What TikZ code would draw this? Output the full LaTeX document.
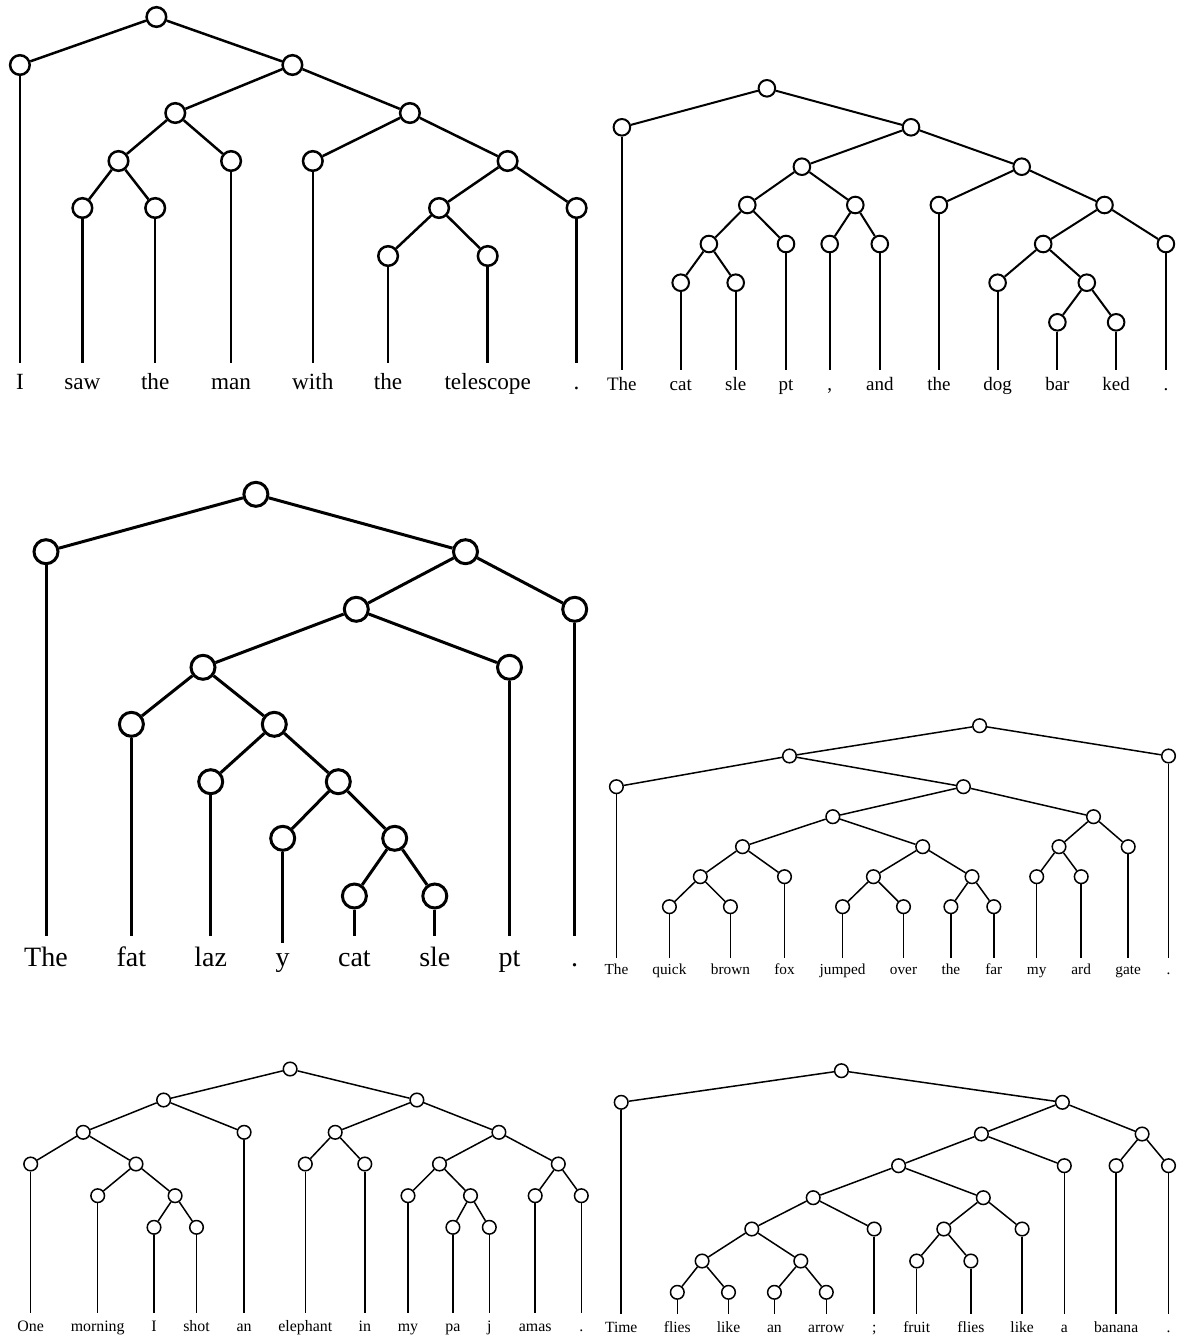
\documentclass[tikz,border=0pt]{standalone}
\usepackage{fontspec}
\setmainfont{Liberation Serif}
\begin{document}
\begin{tikzpicture}[x=0.5pt,y=-0.5pt]
\useasboundingbox (0,0) rectangle (1180,1339);
\tikzset{
  nA/.style={circle,draw,fill=white,line width=1.25pt,minimum size=9.8pt,inner sep=0pt},
  eA/.style={line width=1.25pt},
  wA/.style={anchor=base,inner sep=0pt,outer sep=0pt,text height=12.85pt,text depth=0pt,font=\fontsize{11.6pt}{13pt}\selectfont},
  nB/.style={circle,draw,fill=white,line width=1pt,minimum size=8.3pt,inner sep=0pt},
  eB/.style={line width=1pt},
  wB/.style={anchor=base,inner sep=0pt,outer sep=0pt,text height=10.3pt,text depth=0pt,font=\fontsize{9.5pt}{11pt}\selectfont},
  nC/.style={circle,draw,fill=white,line width=1.5pt,minimum size=12pt,inner sep=0pt},
  eC/.style={line width=1.5pt},
  wC/.style={anchor=base,inner sep=0pt,outer sep=0pt,text height=15pt,text depth=0pt,font=\fontsize{14pt}{16pt}\selectfont},
  nD/.style={circle,draw,fill=white,line width=0.75pt,minimum size=6.8pt,inner sep=0pt},
  eD/.style={line width=0.75pt},
  wD/.style={anchor=base,inner sep=0pt,outer sep=0pt,text height=7.85pt,text depth=0pt,font=\fontsize{7.65pt}{9pt}\selectfont},
  wE/.style={anchor=base,inner sep=0pt,outer sep=0pt,text height=8.85pt,text depth=0pt,font=\fontsize{7.95pt}{9pt}\selectfont},
  wF/.style={anchor=base,inner sep=0pt,outer sep=0pt,text height=9pt,text depth=0pt,font=\fontsize{7.8pt}{9pt}\selectfont},
}
% ---------------- Tree 1 ----------------
\node[nA] (t1r) at (156.4,17) {};
\node[nA] (t1a) at (19.9,65) {};
\node[nA] (t1b) at (292.4,65) {};
\node[nA] (t1c) at (175.3,113) {};
\node[nA] (t1d) at (409.9,113) {};
\node[nA] (t1e) at (118.5,161) {};
\node[nA] (t1f) at (231.1,161) {};
\node[nA] (t1g) at (312.8,161) {};
\node[nA] (t1h) at (507.6,161) {};
\node[nA] (t1i) at (82.4,208) {};
\node[nA] (t1j) at (155.2,208) {};
\node[nA] (t1k) at (439.1,208) {};
\node[nA] (t1l) at (576.6,208) {};
\node[nA] (t1m) at (388.1,256) {};
\node[nA] (t1n) at (487.7,256) {};
\node[wA] (w1a) at (19.9,389) {I};
\node[wA] (w1i) at (82.4,389) {saw};
\node[wA] (w1j) at (155.2,389) {the};
\node[wA] (w1f) at (231.1,389) {man};
\node[wA] (w1g) at (312.8,389) {with};
\node[wA] (w1m) at (388.1,389) {the};
\node[wA] (w1n) at (487.7,389) {telescope};
\node[wA] (w1l) at (576.6,389) {.};
\foreach \p/\c in {r/a,r/b,b/c,b/d,c/e,c/f,e/i,e/j,d/g,d/h,h/k,h/l,k/m,k/n}
  \draw[eA] (t1\p) -- (t1\c);
\foreach \c in {a,i,j,f,g,m,n,l}
  \draw[eA] (t1\c) -- (w1\c);
% ---------------- Tree 2 ----------------
\node[nB] (t2r) at (766.9,88.3) {};
\node[nB] (t2a) at (621.9,127.3) {};
\node[nB] (t2b) at (911.0,127.3) {};
\node[nB] (t2c) at (801.9,166.7) {};
\node[nB] (t2d) at (1021.7,166.7) {};
\node[nB] (t2e) at (747.3,205) {};
\node[nB] (t2f) at (855.3,205) {};
\node[nB] (t2g) at (938.9,205) {};
\node[nB] (t2h) at (1104.5,205) {};
\node[nB] (t2i) at (708.9,244) {};
\node[nB] (t2j) at (786.0,244) {};
\node[nB] (t2k) at (829.7,244) {};
\node[nB] (t2l) at (879.8,244) {};
\node[nB] (t2m) at (1043.2,244) {};
\node[nB] (t2n) at (1165.9,244) {};
\node[nB] (t2o) at (680.7,282.7) {};
\node[nB] (t2p) at (735.7,282.7) {};
\node[nB] (t2q) at (997.6,282.7) {};
\node[nB] (t2s) at (1086.8,282.7) {};
\node[nB] (t2t) at (1057.4,322.3) {};
\node[nB] (t2u) at (1116.1,322.3) {};
\node[wB] (w2a) at (621.9,390.6) {The};
\node[wB] (w2o) at (680.7,390.6) {cat};
\node[wB] (w2p) at (735.7,390.6) {sle};
\node[wB] (w2j) at (786.0,390.6) {pt};
\node[wB] (w2k) at (829.7,390.6) {,};
\node[wB] (w2l) at (879.8,390.6) {and};
\node[wB] (w2g) at (938.9,390.6) {the};
\node[wB] (w2q) at (997.6,390.6) {dog};
\node[wB] (w2t) at (1057.4,390.6) {bar};
\node[wB] (w2u) at (1116.1,390.6) {ked};
\node[wB] (w2n) at (1165.9,390.6) {.};
\foreach \p/\c in {r/a,r/b,b/c,b/d,c/e,c/f,e/i,e/j,i/o,i/p,f/k,f/l,d/g,d/h,h/m,h/n,m/q,m/s,s/t,s/u}
  \draw[eB] (t2\p) -- (t2\c);
\foreach \c in {a,o,p,j,k,l,g,q,t,u,n}
  \draw[eB] (t2\c) -- (w2\c);
% ---------------- Tree 3 ----------------
\node[nC] (t3r) at (255.9,494.3) {};
\node[nC] (t3a) at (46.0,551.7) {};
\node[nC] (t3b) at (465.5,551.7) {};
\node[nC] (t3c) at (356.3,609.3) {};
\node[nC] (t3d) at (574.7,609.3) {};
\node[nC] (t3e) at (203.0,667.3) {};
\node[nC] (t3f) at (509.5,667.3) {};
\node[nC] (t3g) at (131.4,724.3) {};
\node[nC] (t3h) at (274.3,724.3) {};
\node[nC] (t3i) at (210.7,781.7) {};
\node[nC] (t3j) at (338.3,781.7) {};
\node[nC] (t3k) at (282.7,838.3) {};
\node[nC] (t3l) at (394.7,838.3) {};
\node[nC] (t3m) at (354.4,896) {};
\node[nC] (t3n) at (434.8,896) {};
\node[wC] (w3a) at (46.0,966) {The};
\node[wC] (w3g) at (131.4,966) {fat};
\node[wC] (w3i) at (210.7,966) {laz};
\node[wC,text height=11.5pt] (w3k) at (282.7,966) {y};
\node[wC] (w3m) at (354.4,966) {cat};
\node[wC] (w3n) at (434.8,966) {sle};
\node[wC] (w3f) at (509.5,966) {pt};
\node[wC] (w3d) at (574.7,966) {.};
\foreach \p/\c in {r/a,r/b,b/c,b/d,c/e,c/f,e/g,e/h,h/i,h/j,j/k,j/l,l/m,l/n}
  \draw[eC] (t3\p) -- (t3\c);
\foreach \c in {a,g,i,k,m,n,f,d}
  \draw[eC] (t3\c) -- (w3\c);
% ---------------- Tree 4 ----------------
\node[nD] (t4r) at (979.6,725.7) {};
\node[nD] (t4a) at (789.5,756) {};
\node[nD] (t4b) at (1168.5,756) {};
\node[nD] (t4c) at (616.4,786.7) {};
\node[nD] (t4d) at (963.4,786.7) {};
\node[nD] (t4e) at (832.8,816.7) {};
\node[nD] (t4f) at (1093.5,816.7) {};
\node[nD] (t4g) at (742.5,846.7) {};
\node[nD] (t4h) at (922.7,846.7) {};
\node[nD] (t4i) at (1059.0,846.7) {};
\node[nD] (t4j) at (1128.2,846.7) {};
\node[nD] (t4k) at (700.3,876.7) {};
\node[nD] (t4l) at (784.5,876.7) {};
\node[nD] (t4m) at (873.4,876.7) {};
\node[nD] (t4n) at (972.0,876.7) {};
\node[nD] (t4o) at (1036.7,876.7) {};
\node[nD] (t4p) at (1081.2,876.7) {};
\node[nD] (t4q) at (669.4,906.7) {};
\node[nD] (t4s) at (730.4,906.7) {};
\node[nD] (t4t) at (842.6,906.7) {};
\node[nD] (t4u) at (903.5,906.7) {};
\node[nD] (t4v) at (950.9,906.7) {};
\node[nD] (t4w) at (993.8,906.7) {};
\node[wD] (w4c) at (616.4,974) {The};
\node[wD] (w4q) at (669.4,974) {quick};
\node[wD] (w4s) at (730.4,974) {brown};
\node[wD] (w4l) at (784.5,974) {fox};
\node[wD] (w4t) at (842.6,974) {jumped};
\node[wD] (w4u) at (903.5,974) {over};
\node[wD] (w4v) at (950.9,974) {the};
\node[wD] (w4w) at (993.8,974) {far};
\node[wD] (w4o) at (1036.7,974) {my};
\node[wD] (w4p) at (1081.2,974) {ard};
\node[wD] (w4j) at (1128.2,974) {gate};
\node[wD] (w4b) at (1168.5,974) {.};
\foreach \p/\c in {r/a,r/b,a/c,a/d,d/e,d/f,e/g,e/h,g/k,g/l,k/q,k/s,h/m,h/n,m/t,m/u,n/v,n/w,f/i,f/j,i/o,i/p}
  \draw[eD] (t4\p) -- (t4\c);
\foreach \c in {c,q,s,l,t,u,v,w,o,p,j,b}
  \draw[eD] (t4\c) -- (w4\c);
% ---------------- Tree 5 ----------------
\node[nD] (t5r) at (290.1,1069) {};
\node[nD] (t5a) at (163.6,1100) {};
\node[nD] (t5b) at (416.9,1100) {};
\node[nD] (t5c) at (83.2,1132.3) {};
\node[nD] (t5d) at (244.1,1132.3) {};
\node[nD] (t5e) at (335.2,1132.3) {};
\node[nD] (t5f) at (498.9,1132.3) {};
\node[nD] (t5g) at (30.7,1164) {};
\node[nD] (t5h) at (136.0,1164) {};
\node[nD] (t5i) at (305.3,1164) {};
\node[nD] (t5j) at (364.8,1164) {};
\node[nD] (t5k) at (439.5,1164) {};
\node[nD] (t5l) at (558.3,1164) {};
\node[nD] (t5m) at (97.7,1195.7) {};
\node[nD] (t5n) at (175.1,1195.7) {};
\node[nD] (t5o) at (408.0,1195.7) {};
\node[nD] (t5p) at (470.5,1195.7) {};
\node[nD] (t5q) at (535.2,1195.7) {};
\node[nD] (t5s) at (581.3,1195.7) {};
\node[nD] (t5t) at (154.0,1227.3) {};
\node[nD] (t5u) at (196.5,1227.3) {};
\node[nD] (t5v) at (452.9,1227.3) {};
\node[nD] (t5w) at (489.3,1227.3) {};
\node[wE] (w5g) at (30.7,1331) {One};
\node[wE] (w5m) at (97.7,1331) {morning};
\node[wE] (w5t) at (154.0,1331) {I};
\node[wE] (w5u) at (196.5,1331) {shot};
\node[wE] (w5d) at (244.1,1331) {an};
\node[wE] (w5i) at (305.3,1331) {elephant};
\node[wE] (w5j) at (364.8,1331) {in};
\node[wE] (w5o) at (408.0,1331) {my};
\node[wE] (w5v) at (452.9,1331) {pa};
\node[wE] (w5w) at (489.3,1331) {j};
\node[wE] (w5q) at (535.2,1331) {amas};
\node[wE] (w5s) at (581.3,1331) {.};
\foreach \p/\c in {r/a,r/b,a/c,a/d,c/g,c/h,h/m,h/n,n/t,n/u,b/e,b/f,e/i,e/j,f/k,f/l,k/o,k/p,p/v,p/w,l/q,l/s}
  \draw[eD] (t5\p) -- (t5\c);
\foreach \c in {g,m,t,u,d,i,j,o,v,w,q,s}
  \draw[eD] (t5\c) -- (w5\c);
% ---------------- Tree 6 ----------------
\node[nD] (t6r) at (841.4,1070.7) {};
\node[nD] (t6a) at (621.2,1102.3) {};
\node[nD] (t6b) at (1062.4,1102.3) {};
\node[nD] (t6c) at (981.4,1134) {};
\node[nD] (t6d) at (1142.1,1134) {};
\node[nD] (t6e) at (898.6,1165.7) {};
\node[nD] (t6f) at (1064.3,1165.7) {};
\node[nD] (t6g) at (1116.1,1165.7) {};
\node[nD] (t6h) at (1168.5,1165.7) {};
\node[nD] (t6i) at (813.2,1197.7) {};
\node[nD] (t6j) at (983.3,1197.7) {};
\node[nD] (t6k) at (751.8,1229) {};
\node[nD] (t6l) at (874.2,1229) {};
\node[nD] (t6m) at (943.8,1229) {};
\node[nD] (t6n) at (1022.1,1229) {};
\node[nD] (t6o) at (702.1,1261) {};
\node[nD] (t6p) at (800.8,1261) {};
\node[nD] (t6q) at (916.7,1261) {};
\node[nD] (t6s) at (970.9,1261) {};
\node[nD] (t6t) at (677.3,1292.3) {};
\node[nD] (t6u) at (728.5,1292.3) {};
\node[nD] (t6v) at (774.4,1292.3) {};
\node[nD] (t6w) at (826.3,1292.3) {};
\node[wF] (w6a) at (621.2,1332.3) {Time};
\node[wF] (w6t) at (677.3,1332.3) {flies};
\node[wF] (w6u) at (728.5,1332.3) {like};
\node[wF] (w6v) at (774.4,1332.3) {an};
\node[wF] (w6w) at (826.3,1332.3) {arrow};
\node[wF] (w6l) at (874.2,1332.3) {;};
\node[wF] (w6q) at (916.7,1332.3) {fruit};
\node[wF] (w6s) at (970.9,1332.3) {flies};
\node[wF] (w6n) at (1022.1,1332.3) {like};
\node[wF] (w6f) at (1064.3,1332.3) {a};
\node[wF] (w6g) at (1116.1,1332.3) {banana};
\node[wF] (w6h) at (1168.5,1332.3) {.};
\foreach \p/\c in {r/a,r/b,b/c,b/d,c/e,c/f,d/g,d/h,e/i,e/j,i/k,i/l,k/o,k/p,o/t,o/u,p/v,p/w,j/m,j/n,m/q,m/s}
  \draw[eD] (t6\p) -- (t6\c);
\foreach \c in {a,t,u,v,w,l,q,s,n,f,g,h}
  \draw[eD] (t6\c) -- (w6\c);
\end{tikzpicture}
\end{document}
